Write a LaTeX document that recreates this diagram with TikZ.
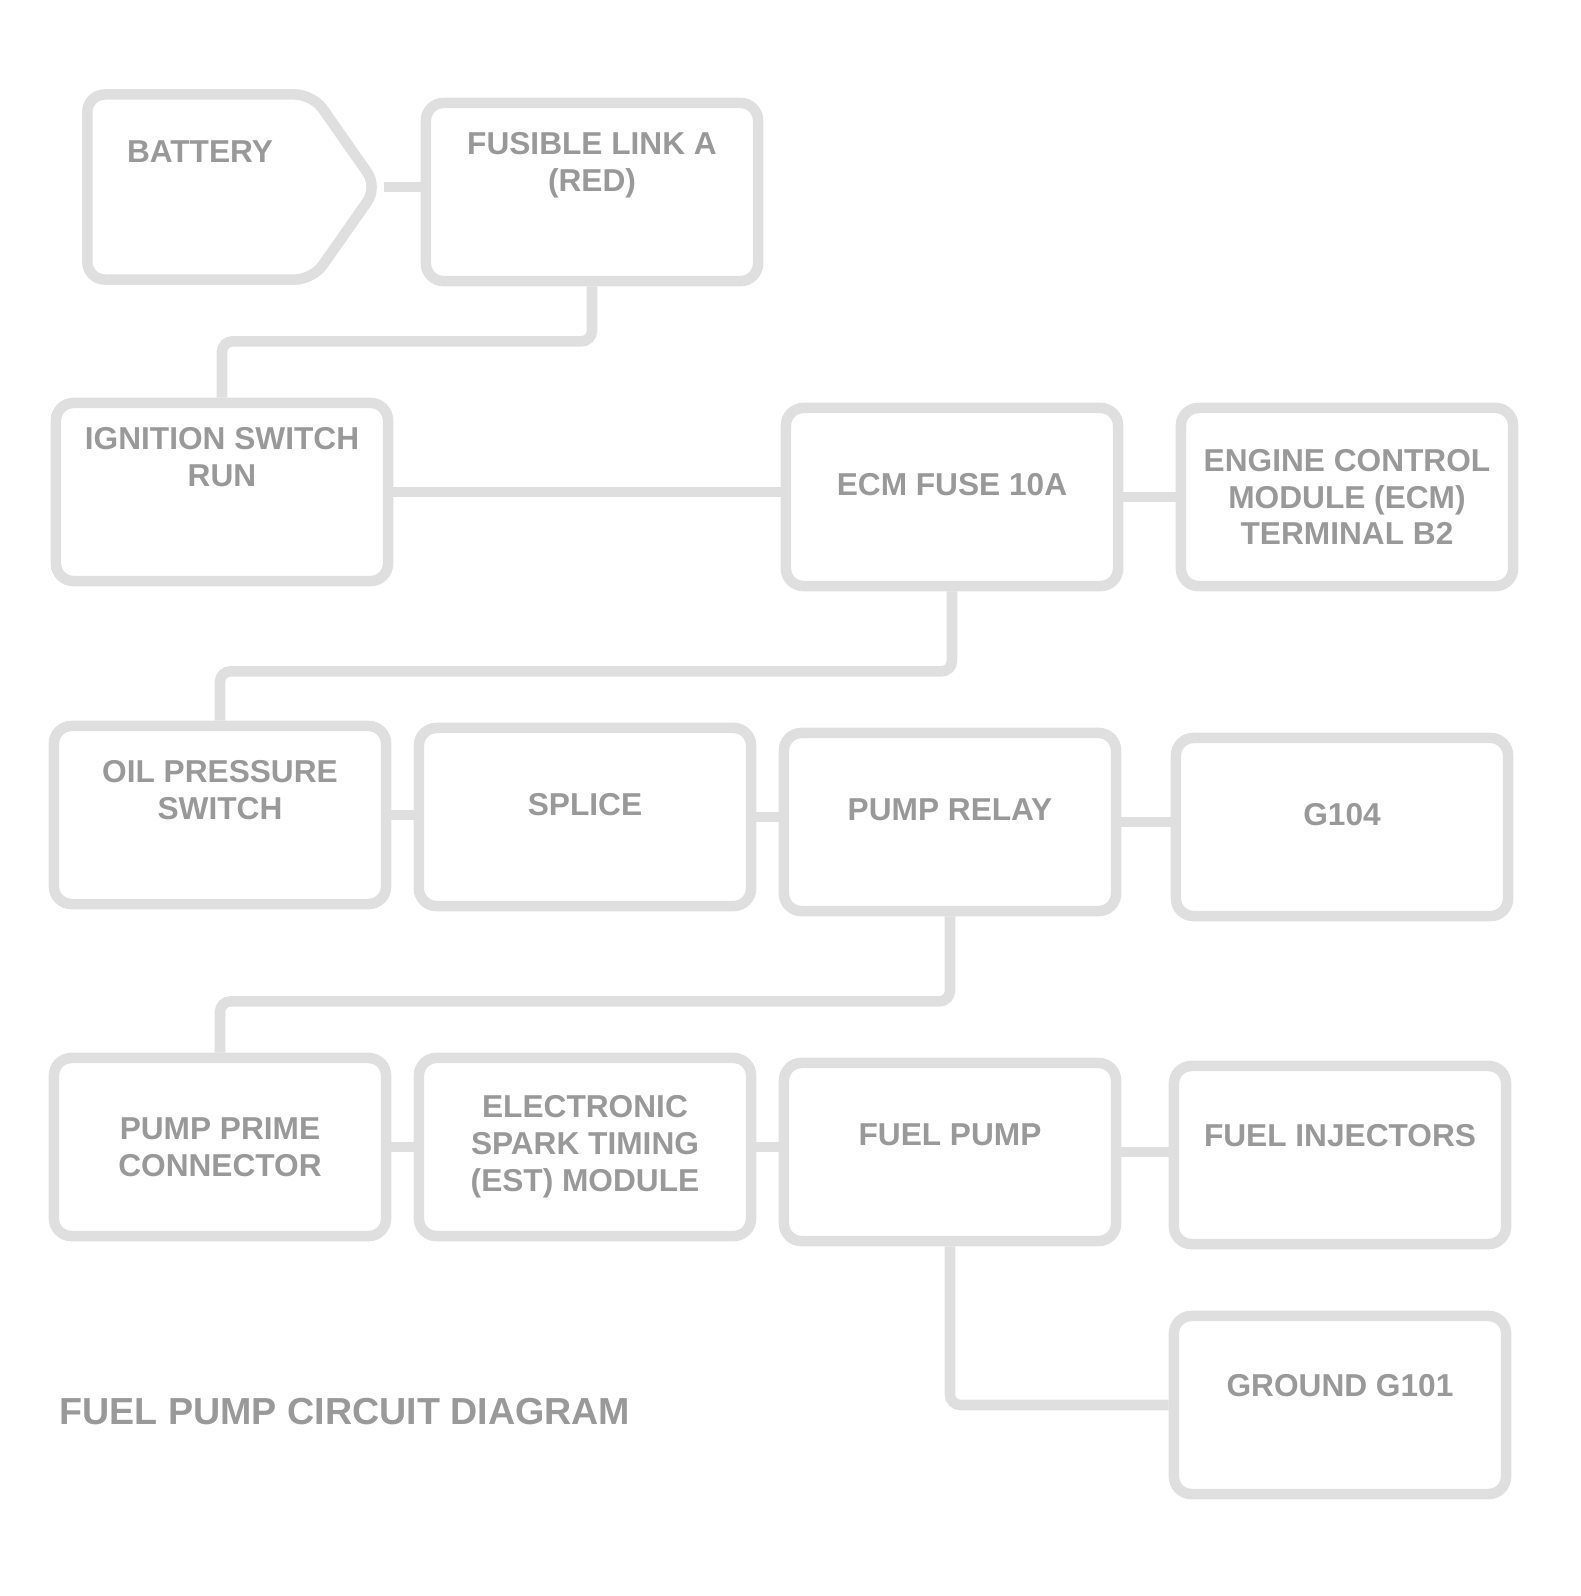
\documentclass[tikz,border=0pt]{standalone}
\usepackage{fontspec}
\setmainfont{Liberation Sans}
\usetikzlibrary{shapes.symbols}

\begin{document}
\begin{tikzpicture}[x=0.01cm, y=-0.01cm,
  every node/.style = {font=\fontsize{9}{10.5}\selectfont\bfseries, text=gray!80},
  blk/.style = {shape=rectangle, rounded corners=5pt, draw=gray!25,
    line width=3pt, minimum width=3.32cm, minimum height=1.78cm, align=center},
  wire/.style = {draw=gray!25, line width=3pt, rounded corners=3pt}]
  \useasboundingbox (0,0) rectangle (1581,1596);
  % first row
  \node[blk, signal, signal to=east, signal pointer angle=110,
    minimum width=2.9cm, minimum height=1.85cm, text depth=0.7cm] (bat) at (200,187) {BATTERY};
  \node[blk, text depth=0.6cm] (link) at (592,192) {FUSIBLE LINK A\\(RED)};
  % second row
  \node[blk, text depth=0.7cm] (ign) at (222,492) {IGNITION SWITCH\\RUN};
  \node[blk, text depth=0.25cm] (fuse) at (952,497) {ECM FUSE 10A};
  \node[blk] (ecm) at (1347,497) {ENGINE CONTROL\\MODULE (ECM)\\TERMINAL B2};
  % third row
  \node[blk, text depth=0.5cm] (oil) at (220,815) {OIL PRESSURE\\SWITCH};
  \node[blk, text depth=0.25cm] (splice) at (585,817) {SPLICE};
  \node[blk, text depth=0.25cm] (relay) at (950,822) {PUMP RELAY};
  \node[blk, text depth=0.25cm] (gnd) at (1342,827) {G104};
  % fourth row
  \node[blk] (prime) at (220,1147) {PUMP PRIME\\CONNECTOR};
  \node[blk] (est) at (585,1147) {ELECTRONIC\\SPARK TIMING\\(EST) MODULE};
  \node[blk, text depth=0.35cm] (pump) at (950,1152) {FUEL PUMP};
  \node[blk, text depth=0.4cm] (inj) at (1340,1155) {FUEL INJECTORS};
  % last row
  \node[blk, text depth=0.4cm] (ground) at (1340,1405) {GROUND G101};
  \node[font=\fontsize{10.7}{12}\selectfont\bfseries] (title) at (345,1412) {FUEL PUMP CIRCUIT DIAGRAM};

  \draw[wire] (bat.east) -- (bat.east -| link.west);
  \draw[wire] (link.south) -- ++(0,55) -| (ign.north);
  \draw[wire] (ign.east) -- (ign.east -| fuse.west);
  \draw[wire] (fuse.east) -- (fuse.east -| ecm.west);
  \draw[wire] (fuse.south) -- ++(0,80) -| (oil.north);
  \draw[wire] (oil.east) -- (oil.east -| splice.west);
  \draw[wire] (splice.east) -- (splice.east -| relay.west);
  \draw[wire] (relay.east) -- (relay.east -| gnd.west);
  \draw[wire] (relay.south) -- ++(0,85) -| (prime.north);
  \draw[wire] (prime.east) -- (prime.east -| est.west);
  \draw[wire] (est.east) -- (est.east -| pump.west);
  \draw[wire] (pump.east) -- (pump.east -| inj.west);
  \draw[wire] (ground.west) -| (pump.south);
\end{tikzpicture}
\end{document}
